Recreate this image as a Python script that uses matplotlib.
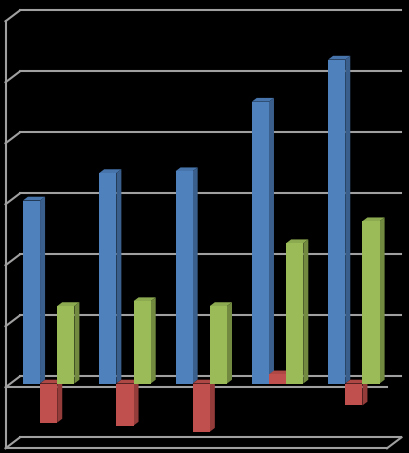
import matplotlib
matplotlib.use('Agg')
import matplotlib.pyplot as plt
import numpy as np

categories = ['1', '2', '3', '4', '5']
blue_vals = [3.00, 3.45, 3.48, 4.62, 5.31]
red_vals = [-0.64, -0.69, -0.79, 0.15, -0.36]
green_vals = [1.27, 1.35, 1.27, 2.30, 2.66]

series = [
    (blue_vals, '#4f81bd', '#3a5f8c', '#4674ab'),
    (red_vals, '#c0504d', '#943c3a', '#ad4845'),
    (green_vals, '#9bbb59', '#718a3f', '#8caa50'),
]

# oblique depth of the chart box, in data units (x, y)
DX, DY = 0.19, 0.18
# bars sit between these depth fractions (0 = front of box)
F_FRONT, F_BACK = 0.345, 0.69
bar_w = 0.225
grid_col = '#a0a0a0'
lw = 1.5

fig = plt.figure(figsize=(4.10, 4.53), dpi=100, facecolor='black')
ax = fig.add_axes([5.5 / 410, 0.0104, 381.5 / 410, 0.9426])
ax.set_facecolor('black')
ax.set_xlim(-0.5, len(categories) - 0.5)
ax.set_ylim(-1, 6)
ax.axis('off')

x0, x1 = ax.get_xlim()
ymin, ymax = ax.get_ylim()

# back wall gridlines + small diagonals on the left wall
for k in range(int(ymin), int(ymax) + 1):
    ax.plot([x0 + DX, x1 + DX], [k + DY, k + DY], color=grid_col, lw=lw, clip_on=False, zorder=1)
    ax.plot([x0, x0 + DX], [k, k + DY], color=grid_col, lw=lw, clip_on=False, zorder=1)

# floor front edge, right diagonal, left vertical axis
ax.plot([x0, x1], [ymin, ymin], color=grid_col, lw=lw, clip_on=False, zorder=1)
ax.plot([x1, x1 + DX], [ymin, ymin + DY], color=grid_col, lw=lw, clip_on=False, zorder=1)
ax.plot([x0, x0], [ymin, ymax], color=grid_col, lw=lw, clip_on=False, zorder=1)
# category axis at zero, front
ax.plot([x0, x1], [0, 0], color=grid_col, lw=lw, clip_on=False, zorder=1)

xs = np.arange(len(categories))
fx, fy = F_FRONT * DX, F_FRONT * DY
bx, by = F_BACK * DX, F_BACK * DY
z = 2
for i in xs:
    for j, (vals, c_front, c_side, c_top) in enumerate(series):
        v = vals[i]
        left = i + (j - 1) * bar_w - bar_w / 2
        right = left + bar_w
        lo, hi = min(0, v), max(0, v)
        # right side face
        ax.fill([right + fx, right + bx, right + bx, right + fx],
                [lo + fy, lo + by, hi + by, hi + fy], color=c_side, lw=0, zorder=z)
        # top face
        ax.fill([left + fx, right + fx, right + bx, left + bx],
                [hi + fy, hi + fy, hi + by, hi + by], color=c_top, lw=0, zorder=z)
        # front face
        ax.bar(left + fx, v, width=bar_w, bottom=fy, align='edge',
               color=c_front, lw=0, zorder=z)
        z += 1

fig.savefig('out.png', dpi=100, facecolor='black')
